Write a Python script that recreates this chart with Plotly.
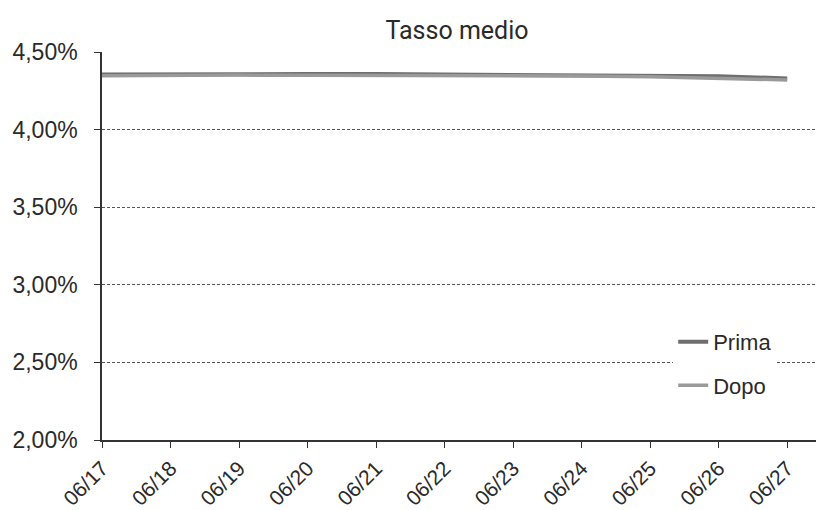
import plotly.graph_objects as go

# Dates on the x axis
dates = ["06/17", "06/18", "06/19", "06/20", "06/21", "06/22",
         "06/23", "06/24", "06/25", "06/26", "06/27"]

# Average rate (fraction) before and after
prima = [0.04355, 0.04358, 0.04358, 0.04358, 0.04358, 0.04356,
         0.04356, 0.04354, 0.04351, 0.04344, 0.04330]
dopo = [0.04347, 0.04350, 0.04351, 0.04350, 0.04350, 0.04349,
        0.04348, 0.04345, 0.04341, 0.04333, 0.04320]

y_ticks = [0.020, 0.025, 0.030, 0.035, 0.040, 0.045]

font_family = "Liberation Sans, Arial, sans-serif"
text_color = "#2a2a2a"

fig = go.Figure()
fig.add_trace(go.Scatter(
    x=list(range(len(dates))), y=prima, name="Prima", mode="lines",
    line=dict(color="#6e6e6e", width=4), legendgroup="a",
))
fig.add_trace(go.Scatter(
    x=list(range(len(dates))), y=dopo, name="Dopo", mode="lines",
    line=dict(color="#9a9a9a", width=3.5), legendgroup="b",
))

fig.update_layout(
    width=816, height=510,
    margin=dict(l=102, r=0, t=52, b=70),
    paper_bgcolor="white", plot_bgcolor="white",
    separators=",.",
    font=dict(family=font_family, size=22, color=text_color),
    title=dict(
        text="Tasso medio", x=(457 / 816), xanchor="center",
        y=1 - 30 / 510, yanchor="middle",
        font=dict(family="Roboto, " + font_family, size=25, color=text_color),
    ),
    legend=dict(
        x=0.80, y=0.307, xanchor="left", yanchor="top",
        bgcolor="white", borderwidth=0,
        tracegroupgap=12,
        font=dict(family=font_family, size=22, color=text_color),
    ),
    showlegend=True,
)

fig.update_xaxes(
    range=[0, 10.42],
    tickmode="array", tickvals=list(range(len(dates))), ticktext=dates,
    tickangle=-45,
    showgrid=False, zeroline=False,
    showline=True, linecolor="#333333", linewidth=1.5,
    ticks="outside", ticklen=6, tickcolor="#333333",
    tickfont=dict(family=font_family, size=21, color=text_color),
)
fig.update_yaxes(
    range=[0.020, 0.045],
    tickmode="array", tickvals=y_ticks, tickformat=".2%",
    showgrid=True, gridcolor="#555555", gridwidth=1, griddash="3px,2px",
    zeroline=False,
    showline=True, linecolor="#333333", linewidth=1.5,
    ticks="outside", ticklen=6, tickcolor="#333333",
    ticklabelstandoff=12,
    tickfont=dict(family=font_family, size=23, color=text_color),
)

fig.write_html("out.html")
